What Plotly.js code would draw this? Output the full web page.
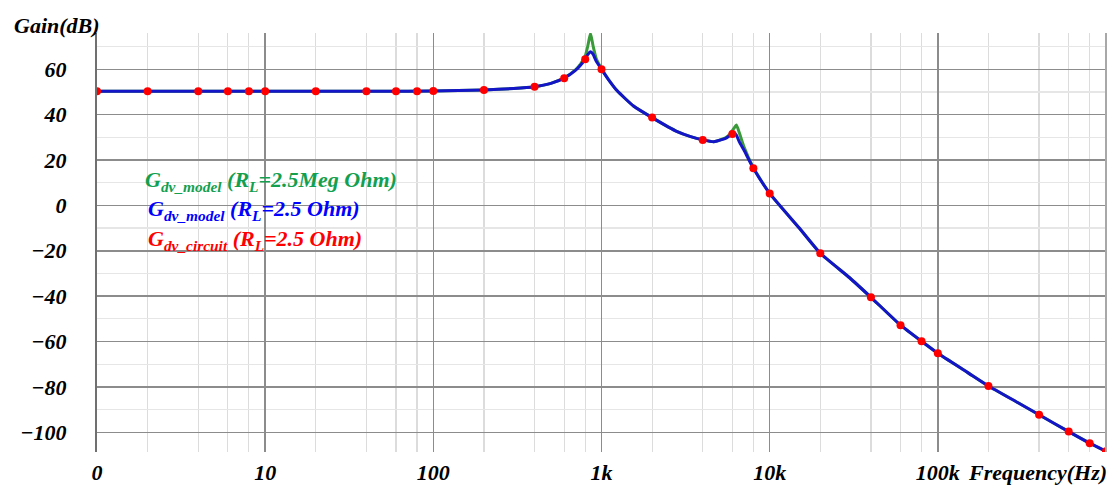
<!DOCTYPE html>
<html>
<head>
<meta charset="utf-8">
<script src="https://cdn.plot.ly/plotly-3.0.1.min.js"></script>
<style>
  html, body { margin: 0; padding: 0; background: #ffffff; }
  #chart { width: 1114px; height: 486px; }
</style>
</head>
<body>
<div id="chart"></div>
<script>
// Frequency response of the duty-to-output transfer function Gdv
// Model curves (frequency in Hz, gain in dB)
const modelFreq = [1, 2, 5, 10, 20, 50, 100, 200, 300, 400, 500, 600, 700, 750, 800, 830, 860, 890, 930, 1000,
  1100, 1240, 1550, 2000, 2820, 3390, 4000, 4660, 5470, 5800, 6130, 6340, 6600, 7030, 8000, 10000,
  15000, 20000, 30000, 40000, 60000, 80000, 100000, 150000, 200000, 300000, 400000, 600000, 800000, 1000000];

// Gdv_model, RL = 2.5 Meg Ohm
const gainModelOpen = [50.3, 50.3, 50.3, 50.3, 50.3, 50.3, 50.4, 50.9, 51.5, 52.3, 53.8, 56.2, 59.8, 62.3, 65.8, 70.5, 75.8, 70.5, 64.8, 60.3,
  55.5, 50.5, 43.8, 38.7, 32.5, 30.3, 28.9, 28.1, 29.8, 31.5, 34.0, 35.4, 32.0, 25.8, 16.6, 5.3,
  -10.0, -21.1, -32.0, -40.5, -52.8, -59.9, -65.2, -73.6, -79.6, -87.0, -92.3, -99.7, -104.8, -108.4];

// Gdv_model, RL = 2.5 Ohm
const gainModelLoad = [50.3, 50.3, 50.3, 50.3, 50.3, 50.3, 50.4, 50.9, 51.5, 52.3, 53.8, 56.1, 59.5, 61.8, 64.5, 66.6, 67.7, 66.7, 63.6, 60.0,
  55.5, 50.5, 43.8, 38.7, 32.5, 30.3, 28.9, 28.1, 29.6, 30.8, 32.0, 31.0, 28.0, 24.4, 16.4, 5.3,
  -10.0, -21.1, -32.0, -40.5, -52.8, -59.9, -65.2, -73.6, -79.6, -87.0, -92.3, -99.7, -104.8, -108.4];

// Gdv_circuit, RL = 2.5 Ohm (simulated points)
const circuitFreq = [1, 2, 4, 6, 8, 10, 20, 40, 60, 80, 100, 200, 400, 600, 800, 1000, 2000, 4000, 6000, 8000,
  10000, 20000, 40000, 60000, 80000, 100000, 200000, 400000, 600000, 800000, 1000000];
const gainCircuit = [50.3, 50.3, 50.3, 50.3, 50.3, 50.3, 50.3, 50.3, 50.3, 50.3, 50.4, 50.9, 52.3, 56.1, 64.4, 60.0, 38.7, 28.8, 31.5, 16.4,
  5.3, -21.1, -40.5, -52.8, -59.9, -65.2, -79.6, -92.3, -99.7, -104.8, -108.4];

// Axis ticks
const xTickVals = [1, 10, 100, 1000, 10000, 100000];
const xTickText = ["0", "10", "100", "1k", "10k", "100k"];
const xMinorVals = [2, 4, 6, 8, 20, 40, 60, 80, 200, 400, 600, 800, 2000, 4000, 6000, 8000,
  20000, 40000, 60000, 80000, 200000, 400000, 600000, 800000];
const yTickVals = [-100, -80, -60, -40, -20, 0, 20, 40, 60];
const yMinorVals = [-90, -70, -50, -30, -10, 10, 30, 50, 70];

const serif = "Liberation Serif";
const tickFont = { family: serif, size: 22, color: "#000000", weight: "bold", style: "italic" };

const traces = [
  {
    x: modelFreq, y: gainModelOpen, type: "scatter", mode: "lines",
    line: { color: "#3a9a3a", width: 3, shape: "spline", smoothing: 0.5 },
    hoverinfo: "skip"
  },
  {
    x: modelFreq, y: gainModelLoad, type: "scatter", mode: "lines",
    line: { color: "#1414c8", width: 3, shape: "spline", smoothing: 0.5 },
    hoverinfo: "skip"
  },
  {
    x: circuitFreq, y: gainCircuit, type: "scatter", mode: "markers",
    marker: { color: "#ff0000", size: 8 },
    hoverinfo: "skip"
  }
];

const legendFont = { family: serif, size: 22, weight: "bold", style: "italic" };

const layout = {
  width: 1114, height: 486,
  margin: { l: 97, r: 8, t: 33, b: 34, pad: 0 },
  paper_bgcolor: "#ffffff", plot_bgcolor: "#ffffff",
  showlegend: false,
  xaxis: {
    type: "log", range: [0, 6],
    tickmode: "array", tickvals: xTickVals, ticktext: xTickText,
    tickfont: tickFont, ticks: "", ticklabelstandoff: 5,
    showgrid: true, gridcolor: "#8c8c8c", gridwidth: 1.5,
    zeroline: false, showline: false,
    minor: { tickmode: "array", tickvals: xMinorVals, showgrid: true, gridcolor: "#dcdcdc", gridwidth: 1.2, ticks: "" }
  },
  yaxis: {
    range: [-108.7, 76],
    tickmode: "array", tickvals: yTickVals,
    tickfont: tickFont, ticks: "", ticklabelstandoff: 24,
    showgrid: true, gridcolor: "#8c8c8c", gridwidth: 1.5,
    zeroline: false, showline: true, linecolor: "#707070", linewidth: 2,
    minor: { tickmode: "array", tickvals: yMinorVals, showgrid: true, gridcolor: "#e6e6e6", gridwidth: 1.2, ticks: "" }
  },
  shapes: [
    { type: "line", xref: "paper", yref: "paper", x0: 1, x1: 1, y0: 0, y1: 1,
      line: { color: "#a8a8a8", width: 2 } }
  ],
  annotations: [
    { text: "Gain(dB)", xref: "paper", yref: "paper", x: -0.084, y: 1.019,
      xanchor: "left", yanchor: "middle", showarrow: false, font: tickFont },
    { text: "Frequency(Hz)", xref: "paper", yref: "paper", x: 1.003, y: -0.05,
      xanchor: "right", yanchor: "middle", showarrow: false, font: tickFont },
    { text: "G<sub>dv_model</sub> (R<sub>L</sub>=2.5Meg Ohm)", xref: "paper", yref: "paper",
      x: 0.046, y: 0.647, xanchor: "left", yanchor: "middle", showarrow: false,
      font: Object.assign({}, legendFont, { color: "#12a050" }) },
    { text: "G<sub>dv_model</sub> (R<sub>L</sub>=2.5 Ohm)", xref: "paper", yref: "paper",
      x: 0.049, y: 0.578, xanchor: "left", yanchor: "middle", showarrow: false,
      font: Object.assign({}, legendFont, { color: "#0000ff" }) },
    { text: "G<sub>dv_circuit</sub> (R<sub>L</sub>=2.5 Ohm)", xref: "paper", yref: "paper",
      x: 0.049, y: 0.506, xanchor: "left", yanchor: "middle", showarrow: false,
      font: Object.assign({}, legendFont, { color: "#ff0000" }) }
  ]
};

Plotly.newPlot("chart", traces, layout, { staticPlot: true, displayModeBar: false });
</script>
</body>
</html>
